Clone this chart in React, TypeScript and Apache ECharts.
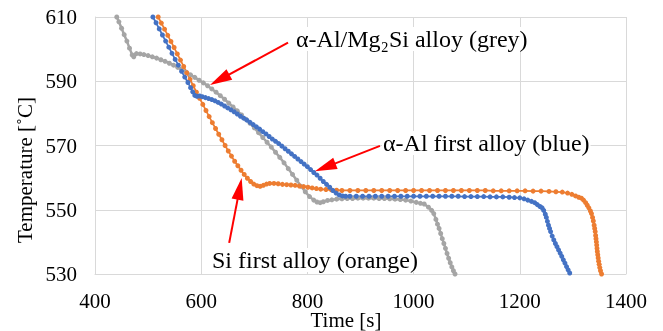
import React, { useEffect, useRef } from "react";
import * as echarts from "echarts";

const greyTime = [441, 445, 450, 455, 460, 465, 470, 473, 478, 485, 492, 500, 508, 516, 524, 532, 540, 548, 556, 564, 572, 580, 588, 596, 604, 612, 620, 628, 636, 644, 652, 660, 668, 676, 684, 692, 700, 708, 716, 724, 732, 740, 748, 756, 764, 772, 780, 788, 796, 804, 812, 818, 824, 830, 838, 846, 855, 865, 875, 885, 895, 905, 915, 925, 935, 945, 955, 965, 975, 985, 995, 1005, 1013, 1020, 1028, 1034, 1038, 1042, 1045, 1048, 1051, 1054, 1057, 1060, 1063, 1066, 1069, 1072, 1075, 1078];
const greyTemp = [610, 608.5, 606.5, 604.5, 602.5, 600.3, 598.2, 597.6, 598.6, 598.5, 598.3, 598.0, 597.6, 597.2, 596.7, 596.2, 595.6, 595.0, 594.3, 593.6, 592.8, 592.0, 591.2, 590.3, 589.5, 588.6, 587.6, 586.6, 585.5, 584.4, 583.2, 582.0, 580.8, 579.5, 578.2, 576.9, 575.5, 574.0, 572.5, 571.0, 569.5, 567.9, 566.3, 564.6, 562.8, 561.0, 559.2, 557.3, 555.6, 554.1, 553.0, 552.4, 552.2, 552.5, 552.9, 553.1, 553.3, 553.4, 553.5, 553.5, 553.6, 553.6, 553.6, 553.6, 553.5, 553.5, 553.4, 553.3, 553.2, 553.0, 552.7, 552.3, 552.0, 551.8, 550.8, 549.8, 548.8, 547.0, 545.5, 544.2, 542.6, 541.0, 539.5, 538.0, 536.4, 534.9, 533.5, 532.2, 531.0, 530.0];

const blueTime = [509, 515, 521, 527, 533, 539, 545, 551, 557, 563, 569, 575, 580, 584, 588, 592, 597, 602, 608, 614, 620, 626, 632, 638, 644, 650, 656, 662, 668, 674, 680, 686, 692, 698, 704, 710, 716, 722, 728, 734, 740, 746, 752, 758, 764, 770, 776, 782, 788, 794, 800, 806, 812, 818, 824, 830, 836, 842, 848, 854, 860, 866, 872, 880, 892, 904, 916, 928, 940, 952, 964, 976, 988, 1000, 1012, 1024, 1036, 1048, 1060, 1072, 1084, 1096, 1108, 1120, 1132, 1144, 1156, 1168, 1180, 1190, 1200, 1208, 1215, 1222, 1228, 1233, 1238, 1242, 1245, 1248, 1250, 1252, 1254, 1256, 1258, 1261, 1264, 1267, 1270, 1273, 1276, 1279, 1282, 1285, 1288, 1291, 1294, 1297];
const blueTemp = [610, 608.2, 606.3, 604.4, 602.5, 600.6, 598.7, 596.8, 595.0, 593.1, 591.3, 589.6, 588.0, 586.7, 585.6, 585.3, 585.4, 585.2, 584.9, 584.6, 584.3, 583.9, 583.4, 582.9, 582.3, 581.7, 581.1, 580.5, 579.8, 579.1, 578.5, 577.9, 577.2, 576.5, 575.8, 575.1, 574.3, 573.6, 572.8, 572.0, 571.3, 570.6, 569.8, 569.0, 568.2, 567.4, 566.6, 565.8, 565.0, 564.2, 563.4, 562.5, 561.6, 560.8, 559.8, 558.8, 557.9, 557.0, 556.0, 555.2, 554.6, 554.3, 554.2, 554.2, 554.2, 554.2, 554.2, 554.2, 554.2, 554.2, 554.2, 554.2, 554.2, 554.2, 554.2, 554.2, 554.2, 554.2, 554.2, 554.2, 554.2, 554.1, 554.1, 554.1, 554.1, 554.0, 554.0, 554.0, 553.9, 553.8, 553.7, 553.4, 553.0, 552.6, 552.2, 551.6, 551.0, 550.6, 549.8, 548.6, 547.6, 546.4, 545.2, 544.2, 543.2, 541.8, 540.6, 539.5, 538.5, 537.5, 536.5, 535.5, 534.4, 533.4, 532.3, 531.3, 530.3, 529.3];

const orangeTime = [519, 525, 531, 537, 543, 549, 555, 561, 567, 573, 579, 585, 591, 597, 603, 609, 615, 621, 627, 633, 639, 645, 651, 657, 663, 669, 675, 681, 687, 693, 699, 705, 711, 717, 723, 729, 737, 745, 753, 761, 769, 777, 785, 793, 801, 809, 817, 825, 835, 845, 855, 865, 880, 895, 910, 925, 940, 955, 970, 985, 1000, 1015, 1030, 1045, 1060, 1075, 1090, 1105, 1120, 1135, 1150, 1165, 1180, 1195, 1210, 1225, 1240, 1255, 1268, 1280, 1290, 1298, 1305, 1311, 1316, 1320, 1324, 1327, 1330, 1333, 1335, 1337, 1338.5, 1340, 1341, 1342, 1342.8, 1343.5, 1344.2, 1344.8, 1345.4, 1346, 1346.8, 1347.6, 1348.5, 1349.5, 1350.6, 1352, 1354];
const orangeTemp = [610, 608.1, 606.2, 604.3, 602.4, 600.5, 598.5, 596.6, 594.6, 592.6, 590.6, 588.6, 586.6, 584.7, 582.8, 580.9, 579.0, 577.1, 575.3, 573.5, 571.8, 570.0, 568.3, 566.7, 565.1, 563.7, 562.3, 561.0, 559.8, 558.8, 558.0, 557.5, 557.3, 557.6, 558.0, 558.2, 558.2, 558.1, 557.9, 557.8, 557.7, 557.6, 557.4, 557.2, 557.0, 556.8, 556.6, 556.4, 556.3, 556.2, 556.1, 556.0, 556.0, 556.0, 556.0, 556.0, 556.0, 556.0, 556.0, 556.0, 556.0, 556.0, 556.0, 556.0, 556.0, 556.0, 556.0, 556.0, 556.0, 556.0, 555.9, 555.9, 555.9, 555.9, 555.9, 555.8, 555.8, 555.7, 555.6, 555.5, 555.2, 554.8, 554.3, 553.9, 553.6, 553.0, 552.2, 551.4, 550.6, 549.6, 548.8, 547.6, 546.5, 545.2, 544.2, 543.2, 542.0, 541.0, 540.0, 539.0, 538.0, 537.0, 536.0, 535.0, 534.0, 533.0, 532.0, 531.0, 530.0];

const xTicks = { min: 400, max: 1400, interval: 200 };
const yTicks = { min: 530, max: 610, interval: 20 };

// arrows in data coordinates: [fromTime, fromTemp, headTime, headTemp]
const arrows = [
  [763.5, 602.0, 634.8, 590.5],
  [936.7, 569.9, 833.5, 563.2],
  [652.7, 539.7, 672.3, 556.5],
];

const labels = ["α-Al/Mg₂Si alloy (grey)", "α-Al first alloy (blue)", "Si first alloy (orange)"];

const FONT = '"Liberation Serif", "Times New Roman", serif';

function zip(a: number[], b: number[]) {
  return a.map((v, i) => [v, b[i]]);
}

export default function App() {
  const ref = useRef<HTMLDivElement>(null);
  useEffect(() => {
    document.body.style.margin = "0";
    const chart = echarts.init(ref.current!, null, { renderer: "svg" });
    const lineSeries = (name: string, data: number[][], color: string, width: number, extra: any = {}) => ({
      type: "line",
      name,
      data,
      showSymbol: true,
      symbol: "circle",
      symbolSize: 5,
      itemStyle: { color },
      lineStyle: { color, width },
      clip: true,
      silent: true,
      animation: false,
      ...extra,
    });
    const annot = (text: string, x: number, y: number) => ({
      type: "text",
      x,
      y,
      z: 100,
      style: {
        text,
        font: `24px ${FONT}`,
        fill: "#000",
        verticalAlign: "middle",
        backgroundColor: "#fff",
        padding: [0, 1],
      },
    });
    chart.setOption({
      animation: false,
      grid: { left: 95, right: 37, top: 17, bottom: 57 },
      xAxis: {
        type: "value",
        ...xTicks,
        axisLine: { show: true, lineStyle: { color: "#D9D9D9" } },
        axisTick: { show: false },
        splitLine: { show: true, lineStyle: { color: "#D9D9D9", width: 1 } },
        axisLabel: { color: "#000", fontFamily: FONT, fontSize: 21, lineHeight: 18, margin: 18, formatter: (v: number) => String(v) },
      },
      yAxis: {
        type: "value",
        ...yTicks,
        axisLine: { show: true, lineStyle: { color: "#D9D9D9" } },
        axisTick: { show: false },
        splitLine: { show: true, lineStyle: { color: "#D9D9D9", width: 1 } },
        axisLabel: { color: "#000", fontFamily: FONT, fontSize: 21, margin: 18, formatter: (v: number) => String(v) },
      },
      series: [
        lineSeries("grey", zip(greyTime, greyTemp), "#A5A5A5", 2.5),
        lineSeries("orange", zip(orangeTime, orangeTemp), "#ED7D31", 1.75),
        lineSeries("blue", zip(blueTime, blueTemp), "#4472C4", 1.75, {
          markLine: {
            silent: true,
            animation: false,
            symbol: ["none", "triangle"],
            label: { show: false },
            lineStyle: { color: "#FF0000", width: 2, type: "solid" },
            emphasis: { disabled: true },
            data: arrows.map((a) => [
              { coord: [a[0], a[1]], symbol: "none" },
              { coord: [a[2], a[3]], symbol: "triangle", symbolSize: [12, 22] },
            ]),
          },
        }),
      ],
      graphic: [
        annot(labels[0], 295, 39),
        annot(labels[1], 382, 143),
        annot(labels[2], 211, 260),
        { type: "text", x: 346, y: 320, style: { text: "Time [s]", font: `21px ${FONT}`, lineHeight: 20, fill: "#000", align: "center", verticalAlign: "middle" } },
        { type: "text", x: 25, y: 170, rotation: Math.PI / 2, style: { text: "Temperature [˚C]", font: `21px ${FONT}`, fill: "#000", align: "center", verticalAlign: "middle" } },
      ],
    });
    return () => chart.dispose();
  }, []);
  return <div ref={ref} style={{ position: "fixed", left: 0, top: 0, width: 663, height: 331 }} />;
}
